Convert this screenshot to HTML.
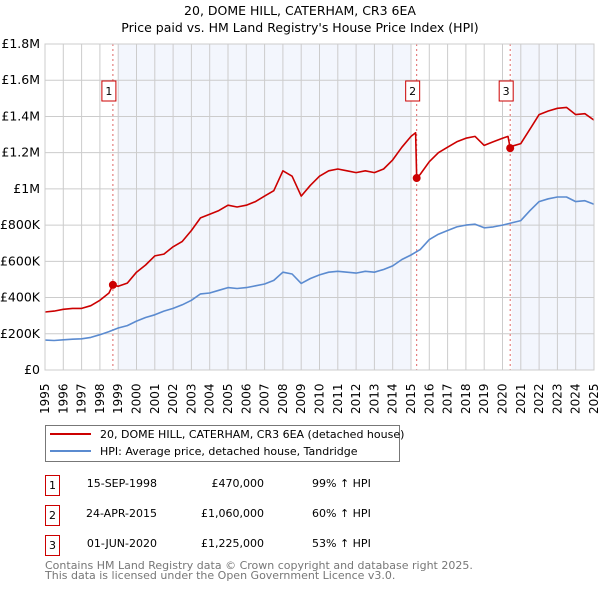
<!DOCTYPE html>
<html><head><meta charset="utf-8"><style>
body{margin:0;background:#fff;}
svg{font-family:"DejaVu Sans","Liberation Sans",sans-serif;display:block}
</style></head><body>
<svg width="600" height="590" viewBox="0 0 600 590">
<g id="g"></g>
</svg>
<script>
const hpiYears=[];for(let i=0;i<=60;i++)hpiYears.push(1995+i*0.5);
const hpiValues=[165,163,167,170,172,180,195,212,232,245,270,290,305,325,340,360,385,420,425,440,455,450,455,465,475,495,540,530,478,505,525,540,545,540,535,545,540,555,575,610,635,665,720,750,770,790,800,805,785,790,800,812,825,880,930,945,955,955,930,935,915];
const redYears=[1995,1995.5,1996,1996.5,1997,1997.5,1998,1998.5,1998.71,1999,1999.5,2000,2000.5,2001,2001.5,2002,2002.5,2003,2003.5,2004,2004.5,2005,2005.5,2006,2006.5,2007,2007.5,2008,2008.5,2009,2009.5,2010,2010.5,2011,2011.5,2012,2012.5,2013,2013.5,2014,2014.5,2015,2015.25,2015.31,2015.5,2016,2016.5,2017,2017.5,2018,2018.5,2019,2019.5,2020,2020.3,2020.42,2020.5,2021,2021.5,2022,2022.5,2023,2023.5,2024,2024.5,2025];
const redValues=[320,325,335,340,340,355,385,425,470,462,480,540,580,630,640,680,710,770,840,860,880,910,900,910,930,960,990,1100,1070,960,1020,1070,1100,1110,1100,1090,1100,1090,1110,1160,1230,1290,1310,1060,1080,1150,1200,1230,1260,1280,1290,1240,1260,1280,1290,1225,1235,1250,1330,1410,1430,1445,1450,1410,1415,1380];
const saleYears=[1998.71,2015.31,2020.42];
const salePrices=[470,1060,1225];
const saleLabels=["1","2","3"];
const yTicks=[0,200,400,600,800,1000,1200,1400,1600,1800];
const yTickLabels=["£0","£200K","£400K","£600K","£800K","£1M","£1.2M","£1.4M","£1.6M","£1.8M"];
const xTicks=[];for(let y=1995;y<=2025;y++)xTicks.push(y);
const X0=45,X1=594,Y0=370,Y1=44;
const xs=y=>X0+(y-1995)/30*(X1-X0);
const ys=v=>Y0-v/1800*(Y0-Y1);
const NS="http://www.w3.org/2000/svg";
const g=document.getElementById('g');
function mk(t,a,p){const e=document.createElementNS(NS,t);for(const k in a)e.setAttribute(k,a[k]);(p||g).appendChild(e);return e;}
// background
let bg=mk('rect',{x:X0,y:Y1,width:X1-X0,height:Y0-Y1,fill:'#fff'});


let s1=mk('rect',{x:xs(1999),y:Y1,width:xs(2015.0)-xs(1999),height:Y0-Y1,fill:'#f3f6fd'});


let s3=mk('rect',{x:xs(2020.5),y:Y1,width:X1-xs(2020.5),height:Y0-Y1,fill:'#f3f6fd'});


// grid
xTicks.forEach(y=>{const l=mk('line',{x1:xs(y),x2:xs(y),y1:Y1,y2:Y0,stroke:'#cccccc','stroke-width':1});


const t=mk('text',{x:0,y:0,transform:`translate(${xs(y)+4},${414}) rotate(-90)`,'font-size':'12',fill:'#000'});t.textContent=y;

});
yTicks.forEach((v,i)=>{const l=mk('line',{x1:X0,x2:X1,y1:ys(v),y2:ys(v),stroke:'#cccccc','stroke-width':1});


const t=mk('text',{x:40,y:ys(v)+4,'text-anchor':'end','font-size':'12.5',fill:'#000'});t.textContent=yTickLabels[i];

});
// sale vlines & labels
saleYears.forEach((y,i)=>{const l=mk('line',{x1:xs(y),x2:xs(y),y1:Y1,y2:Y0,stroke:'#e06666','stroke-width':1,'stroke-dasharray':'2,3'});


const r=mk('rect',{x:xs(y)-11,y:81,width:14,height:20,fill:'#fff',stroke:'#cc0000','stroke-width':1});


const t=mk('text',{x:xs(y)-4,y:95,'text-anchor':'middle','font-size':'11'});t.textContent=saleLabels[i];

});
function path(xa,va,col,name){const d=xa.map((x,i)=>(i?'L':'M')+xs(x).toFixed(1)+','+ys(va[i]).toFixed(1)).join('');
const p=mk('path',{d:d,fill:'none',stroke:col,'stroke-width':1.6,'stroke-linejoin':'round'});

}
path(hpiYears,hpiValues,'#5b8bd0','hpi-line');
path(redYears,redValues,'#cc0000','price-paid-line');
saleYears.forEach((y,i)=>{const c=mk('circle',{cx:xs(y),cy:ys(salePrices[i]),r:4,fill:'#cc0000'});

});
const fr=mk('rect',{x:X0,y:Y1,width:X1-X0,height:Y0-Y1,fill:'none',stroke:'#cccccc'});


</script>
<svg width="600" height="590" style="position:absolute;left:0;top:0">
<text x="300" y="15" text-anchor="middle" font-size="12.5">20, DOME HILL, CATERHAM, CR3 6EA</text>
<text x="300" y="32" text-anchor="middle" font-size="12.5">Price paid vs. HM Land Registry's House Price Index (HPI)</text>
<g>
<rect x="45.5" y="425.5" width="354" height="36" fill="#fff" stroke="#777"/>
<line x1="50" x2="91" y1="434" y2="434" stroke="#cc0000" stroke-width="2"/>
<text x="100" y="438" font-size="11">20, DOME HILL, CATERHAM, CR3 6EA (detached house)</text>
<line x1="50" x2="91" y1="451" y2="451" stroke="#5b8bd0" stroke-width="2"/>
<text x="100" y="455" font-size="11">HPI: Average price, detached house, Tandridge</text>
</g>
<g font-size="11">
<rect x="45.5" y="475.5" width="14" height="20" fill="#fff" stroke="#cc0000"/><text x="52.5" y="489" text-anchor="middle">1</text>
<text x="157" y="487" text-anchor="end">15-SEP-1998</text><text x="264" y="487" text-anchor="end">£470,000</text><text x="312" y="487">99% ↑ HPI</text>
<rect x="45.5" y="505.5" width="14" height="20" fill="#fff" stroke="#cc0000"/><text x="52.5" y="519" text-anchor="middle">2</text>
<text x="157" y="517" text-anchor="end">24-APR-2015</text><text x="264" y="517" text-anchor="end">£1,060,000</text><text x="312" y="517">60% ↑ HPI</text>
<rect x="45.5" y="535.5" width="14" height="20" fill="#fff" stroke="#cc0000"/><text x="52.5" y="549" text-anchor="middle">3</text>
<text x="157" y="547" text-anchor="end">01-JUN-2020</text><text x="264" y="547" text-anchor="end">£1,225,000</text><text x="312" y="547">53% ↑ HPI</text>
</g>
<text x="45" y="569" font-size="11" fill="#777">Contains HM Land Registry data © Crown copyright and database right 2025.</text>
<text x="45" y="579" font-size="11" fill="#777">This data is licensed under the Open Government Licence v3.0.</text>
</svg>
</body></html>
